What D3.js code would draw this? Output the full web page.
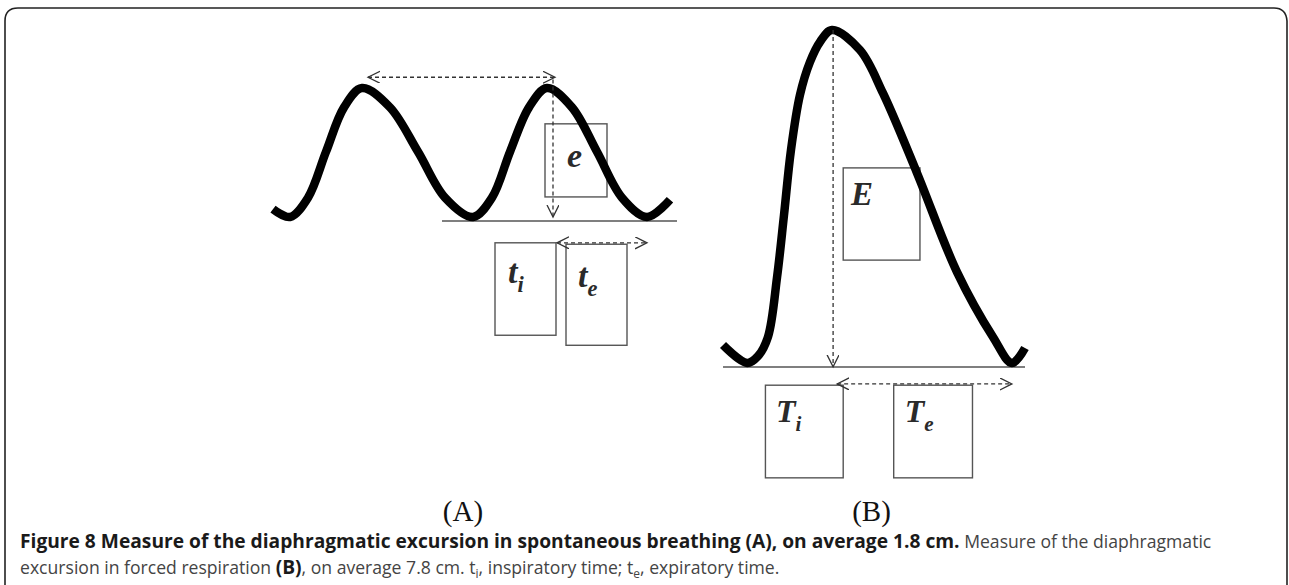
<!DOCTYPE html>
<html>
<head>
<meta charset="utf-8">
<script src="https://cdn.jsdelivr.net/npm/d3@7"></script>
<style>
    body { margin: 0; background: #fff; }
    .sym { font-family: "Liberation Serif", serif; font-style: italic; font-weight: bold; fill: #2a2a2a; }
    .cap { font-family: "Open Sans", sans-serif; font-size: 17.6px; fill: #444; }
    .cap .b { font-weight: bold; font-size: 19.2px; fill: #1a1a1a; }
</style>
</head>
<body>
<div id="fig"></div>
<script>
// (A) spontaneous breathing: time (s) vs diaphragm position (cm)
let timeA = [0.01, 0.18, 0.36, 0.54, 0.72, 0.90, 1.18, 1.46, 1.73, 2.01, 2.20, 2.38, 2.57, 2.75, 3.00, 3.25, 3.50, 3.75, 3.98];
let excA  = [0.11, 0.00, 0.27, 0.91, 1.53, 1.80, 1.53, 0.91, 0.27, 0.00, 0.27, 0.91, 1.53, 1.80, 1.53, 0.91, 0.27, 0.00, 0.24];
// (B) forced respiration
let timeB = [0.01, 0.25, 0.356, 0.455, 0.545, 0.614, 0.683, 0.772, 0.871, 0.970, 1.089, 1.366, 1.594, 1.931, 2.327, 2.683, 2.871, 3.00];
let excB  = [0.42, 0.00, 0.16, 0.61, 2.01, 3.47, 4.99, 6.28, 7.05, 7.52, 7.80, 7.33, 6.32, 4.45, 2.13, 0.61, 0.00, 0.35];
let panelLabels = ['(A)', '(B)'];

let W = 1289, H = 585;
let svg = d3.select('#fig').append('svg').attr('width', W).attr('height', H);

// frame
svg.append('path')
    .attr('d', 'M5,590 V21 Q5,8 18,8 H1274 Q1286,8 1287,21 V590')
    .attr('fill', 'none').attr('stroke', '#222').attr('stroke-width', 1.6);

let defs = svg.append('defs');
defs.append('marker')
    .attr('id', 'head')
    .attr('markerUnits', 'userSpaceOnUse')
    .attr('markerWidth', 16).attr('markerHeight', 14)
    .attr('refX', 12).attr('refY', 6)
    .attr('orient', 'auto-start-reverse')
    .append('path')
    .attr('d', 'M0,0 L12,6 L0,12')
    .attr('fill', 'none').attr('stroke', '#333').attr('stroke-width', 1.3);

let xA = d3.scaleLinear().domain([0, 4]).range([272, 672]);
let yA = d3.scaleLinear().domain([0, 1.8]).range([217, 88]);
let xB = d3.scaleLinear().domain([0, 3]).range([722, 1025]);
let yB = d3.scaleLinear().domain([0, 7.8]).range([363, 30]);

function drawPanel(t, v, x, y, o) {
    let g = svg.append('g');
    // baseline
    g.append('line')
        .attr('x1', x(o.base[0])).attr('x2', x(o.base[1]))
        .attr('y1', y(0) + 4).attr('y2', y(0) + 4)
        .attr('stroke', '#555').attr('stroke-width', 1.6);
    // boxes
    o.boxes.forEach(b => {
        g.append('rect')
            .attr('x', x(b.t0)).attr('y', y(b.v0))
            .attr('width', x(b.t1) - x(b.t0)).attr('height', y(b.v1) - y(b.v0))
            .attr('fill', 'none').attr('stroke', '#555').attr('stroke-width', 1.4);
    });
    // trace
    let line = d3.line().x(d => x(d[0])).y(d => y(d[1])).curve(d3.curveCatmullRom.alpha(0.5));
    g.append('path')
        .datum(d3.zip(t, v))
        .attr('d', line)
        .attr('fill', 'none').attr('stroke', '#000')
        .attr('stroke-width', 8.5).attr('stroke-linejoin', 'round');
    // dashed arrows
    o.arrows.forEach(a => {
        let l = g.append('line')
            .attr('x1', x(a[0])).attr('y1', y(a[1]))
            .attr('x2', x(a[2])).attr('y2', y(a[3]))
            .attr('stroke', '#333').attr('stroke-width', 1.3)
            .attr('stroke-dasharray', '4,3')
            .attr('marker-end', 'url(#head)');
        if (a[4]) l.attr('marker-start', 'url(#head)');
    });
    // symbols
    o.syms.forEach(s => {
        let tx = g.append('text').attr('class', 'sym')
            .attr('x', x(s.t)).attr('y', y(s.v))
            .attr('font-size', s.size);
        tx.append('tspan').text(s.main);
        if (s.sub) tx.append('tspan').attr('dx', s.dx || 0).attr('dy', s.size * 0.27)
            .attr('font-size', s.size * 0.66).text(s.sub);
    });
    // panel label
    g.append('text')
        .attr('x', x(o.label[0])).attr('y', 521)
        .attr('text-anchor', 'middle')
        .attr('font-family', '"Liberation Serif", serif').attr('font-size', 29)
        .attr('fill', '#111')
        .text(o.label[1]);
}

drawPanel(timeA, excA, xA, yA, {
    base: [1.70, 4.05],
    boxes: [
        {t0: 2.73, t1: 3.35, v0: 1.30, v1: 0.28},
        {t0: 2.23, t1: 2.84, v0: -0.36, v1: -1.65},
        {t0: 2.94, t1: 3.55, v0: -0.38, v1: -1.79}
    ],
    arrows: [
        [0.96, 1.95, 2.83, 1.95, true],
        [2.81, 1.92, 2.81, 0.0, false],
        [2.85, -0.36, 3.75, -0.36, true]
    ],
    syms: [
        {t: 2.95, v: 0.70, main: 'e', size: 34},
        {t: 2.36, v: -0.92, main: 't', sub: 'i', size: 34},
        {t: 3.06, v: -0.98, main: 't', sub: 'e', size: 34}
    ],
    label: [1.91, panelLabels[0]]
});

drawPanel(timeB, excB, xB, yB, {
    base: [0.01, 3.00],
    boxes: [
        {t0: 1.20, t1: 1.96, v0: 4.57, v1: 2.41},
        {t0: 0.43, t1: 1.20, v0: -0.52, v1: -2.69},
        {t0: 1.70, t1: 2.48, v0: -0.52, v1: -2.69}
    ],
    arrows: [
        [1.10, 7.80, 1.10, -0.09, false],
        [1.14, -0.49, 2.87, -0.49, true]
    ],
    syms: [
        {t: 1.277, v: 3.70, main: 'E', size: 33},
        {t: 0.535, v: -1.38, main: 'T', sub: 'i', size: 32},
        {t: 1.81, v: -1.38, main: 'T', sub: 'e', size: 32}
    ],
    label: [1.48, panelLabels[1]]
});

// caption
let cap = svg.append('text').attr('class', 'cap').attr('x', 20).attr('y', 548);
cap.append('tspan').attr('class', 'b')
    .text('Figure 8 Measure of the diaphragmatic excursion in spontaneous breathing (A), on average 1.8 cm.');
cap.append('tspan').text(' Measure of the diaphragmatic');

let cap2 = svg.append('text').attr('class', 'cap').attr('x', 20).attr('y', 574);
cap2.append('tspan').text('excursion in forced respiration ');
cap2.append('tspan').attr('class', 'b').text('(B)');
cap2.append('tspan').text(', on average 7.8 cm. t');
cap2.append('tspan').attr('font-size', 12).attr('dy', 4).text('i');
cap2.append('tspan').attr('dy', -4).text(', inspiratory time; t');
cap2.append('tspan').attr('font-size', 12).attr('dy', 4).text('e');
cap2.append('tspan').attr('dy', -4).text(', expiratory time.');
</script>
</body>
</html>
